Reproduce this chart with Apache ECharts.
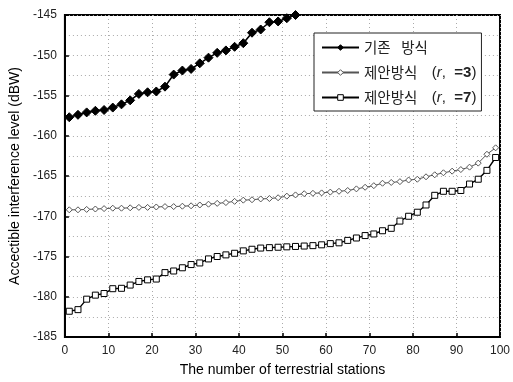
<!DOCTYPE html>
<html>
<head>
<meta charset="utf-8">
<script src="https://cdn.jsdelivr.net/npm/echarts@6/dist/echarts.min.js"></script>
<style>
html,body{margin:0;padding:0;background:#fff;}
#c{width:513px;height:382px;}
</style>
</head>
<body>
<div id="c"></div>
<script>
// Data (x = number of terrestrial stations, odd positions where markers sit)
const seriesNames = ['기존 방식', '제안방식 (r, =3)', '제안방식 (r, =7)'];

const xConv = [1,3,5,7,9,11,13,15,17,19,21,23,25,27,29,31,33,35,37,39,41,43,45,47,49,51,53,55];
const yConv = [-157.7,-157.4,-157.1,-156.9,-156.8,-156.5,-156.1,-155.6,-154.8,-154.6,-154.5,-153.9,-152.4,-151.9,-151.7,-151.0,-150.3,-149.7,-149.4,-148.95,-148.5,-147.2,-146.8,-145.9,-145.8,-145.4,-145.0,-144.6];

const xProp = [1,3,5,7,9,11,13,15,17,19,21,23,25,27,29,31,33,35,37,39,41,43,45,47,49,51,53,55,57,59,61,63,65,67,69,71,73,75,77,79,81,83,85,87,89,91,93,95,97,99];
const yProp3 = [-169.2,-169.2,-169.15,-169.1,-169.05,-169.0,-169.0,-168.95,-168.9,-168.9,-168.85,-168.8,-168.8,-168.75,-168.7,-168.6,-168.5,-168.4,-168.3,-168.15,-168.0,-167.95,-167.85,-167.8,-167.7,-167.5,-167.35,-167.2,-167.15,-167.1,-167.0,-166.9,-166.8,-166.6,-166.4,-166.2,-165.9,-165.8,-165.7,-165.5,-165.4,-165.1,-164.85,-164.6,-164.4,-164.2,-163.9,-163.4,-162.3,-161.5];
const yProp7 = [-181.8,-181.6,-180.3,-179.8,-179.6,-179.0,-178.95,-178.55,-178.1,-177.9,-177.8,-177.0,-176.8,-176.4,-176.0,-175.8,-175.3,-175.0,-174.8,-174.6,-174.3,-174.1,-173.95,-173.9,-173.85,-173.8,-173.75,-173.7,-173.65,-173.55,-173.4,-173.3,-173.0,-172.7,-172.4,-172.2,-171.8,-171.5,-170.6,-170.0,-169.5,-168.6,-167.4,-166.9,-166.9,-166.8,-166.0,-165.4,-164.3,-162.7];

const xTicks = {min: 0, max: 100, step: 10};
const yTicks = {min: -185, max: -145, step: 5};

const pair = (xs, ys) => xs.map((x, i) => [x, ys[i]]);

const chart = echarts.init(document.getElementById('c'), null, {renderer: 'canvas'});
const font = 'Liberation Sans, Arial, sans-serif';

chart.setOption({
  animation: false,
  backgroundColor: '#fff',
  grid: {left: 62, right: 9, top: 15, bottom: 40, show: true, borderColor: '#000', borderWidth: 2, containLabel: false},
  legend: {
    orient: 'vertical',
    left: 314, top: 33,
    padding: [7, 5, 6, 7],
    borderColor: '#222', borderWidth: 1,
    itemWidth: 37, itemHeight: 7, itemGap: 10,
    itemStyle: {borderWidth: 1},
    backgroundColor: '#fff',
    data: seriesNames,
    textStyle: {
      fontFamily: 'Noto Sans CJK KR', fontSize: 14.5, color: '#222', lineHeight: 15,
      rich: {
        i: {fontFamily: font, fontStyle: 'italic', fontSize: 15, color: '#222'},
        p: {fontFamily: font, fontSize: 15, color: '#222'},
        b: {fontFamily: font, fontSize: 15, fontWeight: 'bold', color: '#222'}
      }
    },
    formatter: function (name) {
      const m = name.match(/^(.*) \(r, =(\d)\)$/);
      if (!m) return name.replace(' ', '\u2002 ');
      return m[1] + '\u3000{p|(}{i|r}{p|,  }{b|=' + m[2] + '}{p|)}';
    }
  },
  xAxis: {
    type: 'value', min: xTicks.min, max: xTicks.max, interval: xTicks.step,
    name: 'The number of terrestrial stations', nameLocation: 'middle', nameGap: 26,
    nameTextStyle: {fontFamily: font, fontSize: 14, color: '#000'},
    axisLine: {show: true, lineStyle: {color: '#000', width: 2}},
    axisTick: {show: true, inside: true, length: 4, lineStyle: {color: '#000', width: 1.5}},
    axisLabel: {fontFamily: font, fontSize: 12, color: '#222', margin: 8},
    splitLine: {show: true, lineStyle: {color: '#aaa', type: [1, 3], width: 1}}
  },
  yAxis: {
    type: 'value', min: yTicks.min, max: yTicks.max, interval: yTicks.step,
    name: 'Accectible interference level (dBW)', nameLocation: 'middle', nameGap: 40, nameRotate: 90,
    nameTextStyle: {fontFamily: font, fontSize: 14, color: '#000'},
    axisLine: {show: true, lineStyle: {color: '#000', width: 2}},
    axisTick: {show: true, inside: true, length: 4, lineStyle: {color: '#000', width: 1.5}},
    axisLabel: {fontFamily: font, fontSize: 12, color: '#222', margin: 8},
    splitLine: {show: true, lineStyle: {color: '#aaa', type: [1, 3], width: 1}},
    minorTick: {show: false, splitNumber: 2},
    minorSplitLine: {show: true, lineStyle: {color: '#aaa', type: [1, 3], width: 1}}
  },
  series: [
    {
      name: seriesNames[0], type: 'line', data: pair(xConv, yConv), clip: true,
      symbol: 'diamond', symbolSize: 9, showAllSymbol: true,
      lineStyle: {color: '#000', width: 1.6}, itemStyle: {color: '#000', borderColor: '#000'}
    },
    {
      name: seriesNames[1], type: 'line', data: pair(xProp, yProp3), clip: true,
      symbol: 'diamond', symbolSize: 6, showAllSymbol: true,
      lineStyle: {color: '#555', width: 1}, itemStyle: {color: '#fff', borderColor: '#555', borderWidth: 1}
    },
    {
      name: seriesNames[2], type: 'line', data: pair(xProp, yProp7), clip: true,
      symbol: 'rect', symbolSize: 6, showAllSymbol: true,
      lineStyle: {color: '#000', width: 1.4}, itemStyle: {color: '#fff', borderColor: '#000', borderWidth: 1}
    }
  ]
});
</script>
</body>
</html>
